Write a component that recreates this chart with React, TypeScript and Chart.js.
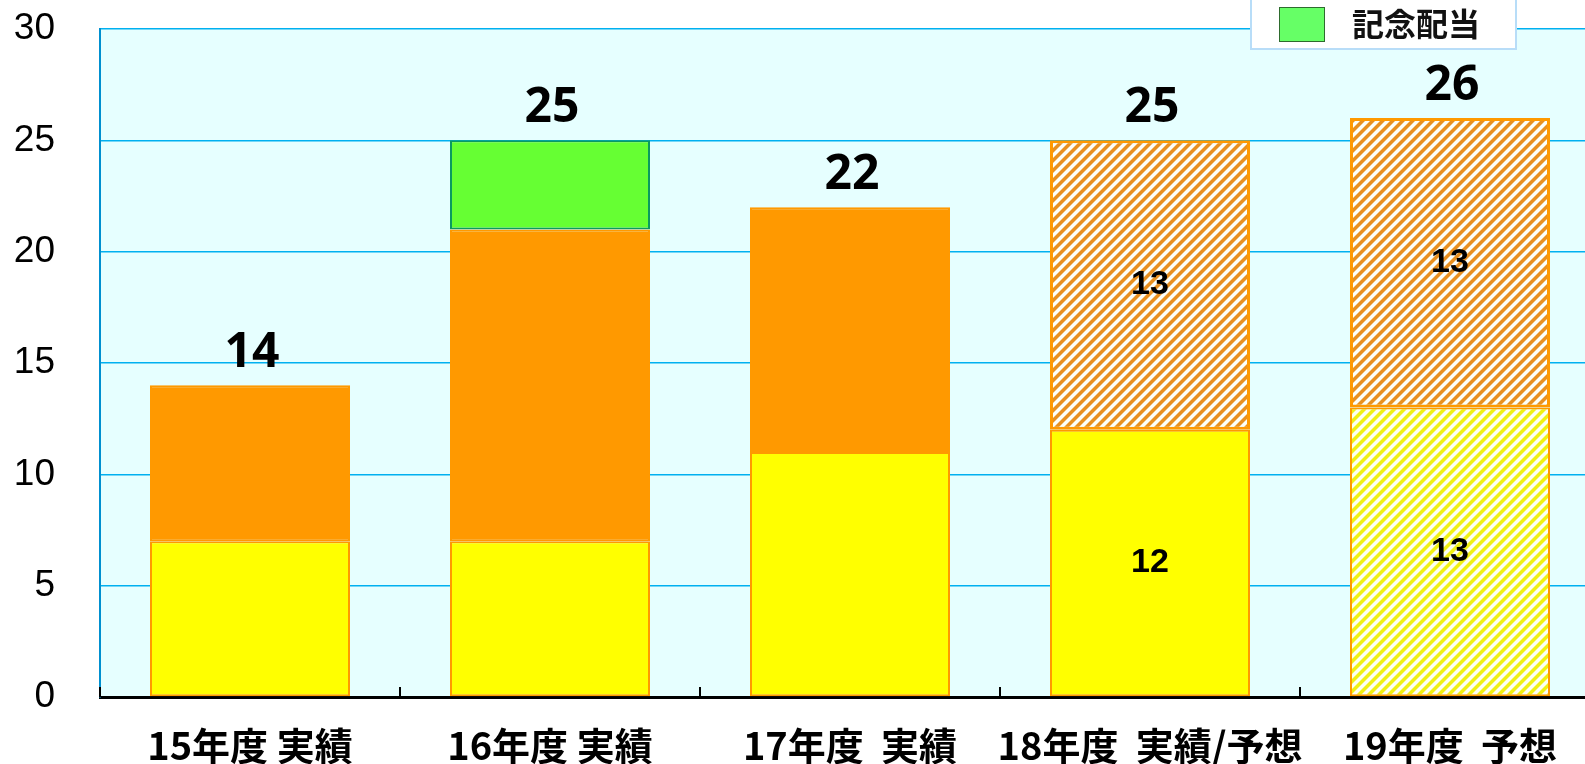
import React, { useEffect, useRef } from "react";
import { Chart, registerables } from "chart.js";

Chart.register(...registerables);

const categories = ["15年度 実績", "16年度 実績", "17年度  実績", "18年度  実績/予想", "19年度  予想"];
const interimDividend: (number | null)[] = [7, 7, 11, 12, 13];
const yearEndDividend: (number | null)[] = [7, 14, 11, 13, 13];
const commemorativeDividend: (number | null)[] = [null, 4, null, null, null];
const interimIsForecast = [false, false, false, false, true];
const yearEndIsForecast = [false, false, false, true, true];
const showSegmentLabels = [false, false, false, true, true];
const yMin = 0;
const yMax = 30;
const yStep = 5;
const legendLabel = "記念配当";

const YELLOW = "#FFFF00";
const ORANGE = "#FF9900";
const GREEN = "#66FF33";
const PLOT_BG = "#E6FFFF";
const GRID = "#00B0F0";

function makeHatch(
  ctx: CanvasRenderingContext2D,
  bg: [number, number, number],
  fg: [number, number, number],
  period: number
) {
  const c = document.createElement("canvas");
  c.width = period;
  c.height = period;
  const g = c.getContext("2d")!;
  const img = g.createImageData(period, period);
  const half = period / 2;
  for (let y = 0; y < period; y++) {
    for (let x = 0; x < period; x++) {
      const v = (x + y) % period;
      let cov = 0;
      if (v >= 1 && v <= half - 1) cov = 1;
      else if (v === 0 || v === half) cov = 0.5;
      const k = (y * period + x) * 4;
      for (let ch = 0; ch < 3; ch++) img.data[k + ch] = Math.round(bg[ch] * (1 - cov) + fg[ch] * cov);
      img.data[k + 3] = 255;
    }
  }
  g.putImageData(img, 0, 0);
  return ctx.createPattern(c, "repeat")!;
}

export default function App() {
  const ref = useRef<HTMLCanvasElement | null>(null);

  useEffect(() => {
    const canvas = ref.current!;
    const ctx = canvas.getContext("2d")!;
    const orangeHatch = makeHatch(ctx, [252, 255, 250], [232, 144, 32], 10);
    const yellowHatch = makeHatch(ctx, [252, 255, 244], [240, 240, 20], 10);

    const bgPlugin = {
      id: "plotBg",
      beforeDraw(chart: any) {
        const { ctx: c, chartArea: a } = chart;
        c.save();
        c.fillStyle = PLOT_BG;
        c.fillRect(a.left, a.top, a.right - a.left, a.bottom - a.top);
        c.restore();
      },
    };

    const overlayPlugin = {
      id: "overlay",
      afterDraw(chart: any) {
        const c: CanvasRenderingContext2D = chart.ctx;
        const a = chart.chartArea;
        const xs = chart.scales.x;
        const n = categories.length;
        c.save();
        c.strokeStyle = "#000";
        c.lineWidth = 2;
        for (let i = 0; i <= n; i++) {
          const x = Math.round(xs.getPixelForValue(i - 0.5));
          c.beginPath();
          c.moveTo(x, a.bottom - 10);
          c.lineTo(x, a.bottom);
          c.stroke();
        }
        const metas = [0, 1, 2].map((i) => chart.getDatasetMeta(i));
        const series = [interimDividend, yearEndDividend, commemorativeDividend];
        c.fillStyle = "#000";
        c.textAlign = "center";
        c.textBaseline = "middle";
        for (let j = 0; j < n; j++) {
          let total = 0;
          let top = Infinity;
          let x = 0;
          series.forEach((s, i) => {
            const v = s[j];
            if (v != null) {
              total += v;
              const el = metas[i].data[j];
              top = Math.min(top, el.y);
              x = el.x;
            }
          });
          c.font = 'bold 48px "Noto Sans"';
          c.fillText(String(total), x + 2, top - 32);
          if (showSegmentLabels[j]) {
            c.font = 'bold 34px "Liberation Sans"';
            [0, 1].forEach((i) => {
              const v = series[i][j];
              if (v == null) return;
              const el = metas[i].data[j];
              c.fillText(String(v), el.x, (el.y + el.base) / 2);
            });
          }
        }
        c.fillStyle = "#FFFFFF";
        c.fillRect(1251, -10, 265, 59);
        c.strokeStyle = "#B8DDF8";
        c.lineWidth = 2;
        c.strokeRect(1251, -10, 265, 59);
        c.fillStyle = "#66FF66";
        c.fillRect(1279, 7, 45, 34);
        c.strokeStyle = "#2E6B2E";
        c.lineWidth = 1;
        c.strokeRect(1279.5, 7.5, 45, 34);
        c.fillStyle = "#111";
        c.textAlign = "left";
        c.font = 'bold 32px "Noto Sans CJK JP"';
        c.fillText(legendLabel, 1352, 24);
        c.restore();
      },
    };

    const chart = new Chart(canvas, {
      type: "bar",
      data: {
        labels: categories,
        datasets: [
          {
            label: "中間配当",
            data: interimDividend,
            backgroundColor: interimIsForecast.map((f) => (f ? yellowHatch : YELLOW)),
            borderColor: ORANGE,
            borderWidth: 2,
            borderSkipped: false,
          },
          {
            label: "期末配当",
            data: yearEndDividend,
            backgroundColor: yearEndIsForecast.map((f) => (f ? orangeHatch : ORANGE)),
            borderColor: ORANGE,
            borderWidth: yearEndIsForecast.map((f) => (f ? 3 : 2)),
            borderSkipped: false,
          },
          {
            label: legendLabel,
            data: commemorativeDividend,
            backgroundColor: GREEN,
            borderColor: "#0A9A60",
            borderWidth: 2,
            borderSkipped: false,
          },
        ],
      } as any,
      options: {
        responsive: false,
        animation: false,
        events: [],
        layout: { padding: { top: 29, left: 0, right: 0, bottom: 0 } },
        datasets: { bar: { categoryPercentage: 1, barPercentage: 2 / 3 } } as any,
        plugins: {
          legend: { display: false },
          tooltip: { enabled: false },
        },
        scales: {
          x: {
            stacked: true,
            grid: { display: false },
            border: { color: "#000", width: 3 },
            ticks: {
              color: "#000",
              font: { family: '"Noto Sans CJK JP"', size: 38, weight: "bold" },
              padding: 18,
              maxRotation: 0,
              autoSkip: false,
            },
            afterFit(scale: any) {
              scale.height = 67;
            },
          },
          y: {
            stacked: true,
            min: yMin,
            max: yMax,
            grid: { color: GRID, lineWidth: 1.5, drawTicks: false },
            border: { color: "#0090D0", width: 2 },
            ticks: {
              stepSize: yStep,
              color: "#000",
              font: { family: '"Liberation Sans"', size: 37 },
              padding: 45,
            },
            afterFit(scale: any) {
              scale.width = 100;
              scale.paddingTop = 0;
              scale.paddingBottom = 0;
            },
          },
        },
      } as any,
      plugins: [bgPlugin, overlayPlugin],
    });
    return () => chart.destroy();
  }, []);

  return (
    <div style={{ position: "absolute", left: 0, top: 0, width: 1585, height: 764, overflow: "hidden", background: "#fff" }}>
      <canvas ref={ref} width={1600} height={764} style={{ display: "block" }} />
    </div>
  );
}
